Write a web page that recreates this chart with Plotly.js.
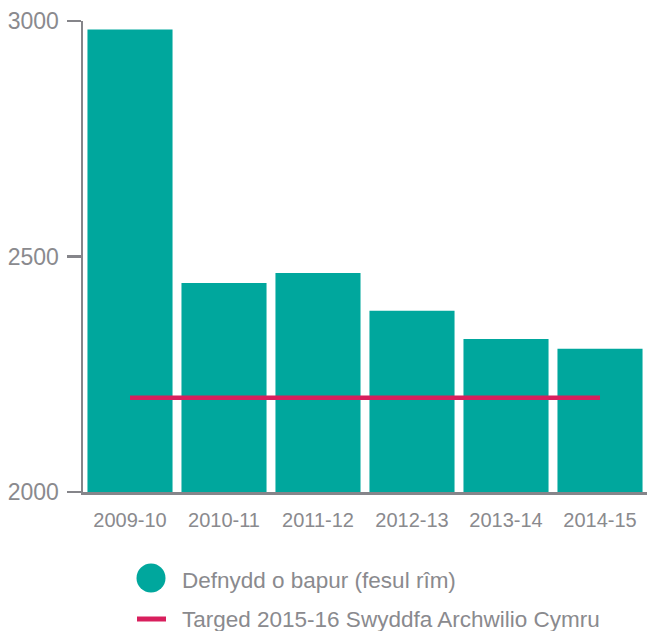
<!DOCTYPE html>
<html>
<head>
<meta charset="utf-8">
<script src="https://cdn.plot.ly/plotly-3.0.1.min.js"></script>
<style>html,body{margin:0;padding:0;background:#fff;}#chart{width:647px;height:631px;}</style>
</head>
<body>
<div id="chart"></div>
<script>
var categories = ['2009-10', '2010-11', '2011-12', '2012-13', '2013-14', '2014-15'];
var paperUse = [2982, 2444, 2465, 2385, 2325, 2304];
var targetValue = 2200;
var targetValues = [targetValue, targetValue];
var targetCats = [categories[0], categories[categories.length - 1]];
var yTicks = [2000, 2500, 3000];
var seriesNames = ['Defnydd o bapur (fesul rîm)', 'Targed 2015-16 Swyddfa Archwilio Cymru'];

var teal = '#00a79d';
var pink = '#d81f5d';
var gray = '#85858a';
var textGray = '#8a8a8e';
var font = 'Arial, "Liberation Sans", sans-serif';

var ML = 83, MR = 0, MT = 21, MB = 139, W = 647, H = 631;
var pw = W - ML - MR, ph = H - MT - MB;
function px(x) { return (x - ML) / pw; }
function py(y) { return (H - MB - y) / ph; }

var traces = [
  { type: 'bar', x: categories, y: paperUse, marker: { color: teal }, name: seriesNames[0], showlegend: false, hoverinfo: 'x+y' },
  { type: 'scatter', mode: 'lines', x: targetCats, y: targetValues, line: { color: pink, width: 4.5 }, name: seriesNames[1], showlegend: false }
];

var layout = {
  width: W, height: H,
  margin: { l: ML, r: MR, t: MT, b: MB },
  paper_bgcolor: '#fff', plot_bgcolor: '#fff',
  bargap: 0.095,
  showlegend: false,
  font: { family: font, color: textGray },
  xaxis: {
    type: 'category',
    showline: true, linecolor: gray, linewidth: 2.5,
    ticks: '', showgrid: false, zeroline: false,
    tickfont: { size: 20, color: textGray, family: font },
    ticklabelstandoff: 8
  },
  yaxis: {
    range: [2000, 3000],
    tickvals: yTicks, ticktext: yTicks.map(String),
    showline: true, linecolor: gray, linewidth: 2.5,
    ticks: 'outside', ticklen: 14, tickwidth: 2.5, tickcolor: gray,
    showgrid: false, zeroline: false,
    tickfont: { size: 23, color: textGray, family: font },
    ticklabelstandoff: 3
  },
  shapes: [
    { type: 'circle', xref: 'paper', yref: 'paper', xsizemode: 'pixel', ysizemode: 'pixel',
      xanchor: px(151), yanchor: py(578), x0: -14.5, x1: 14.5, y0: -14.5, y1: 14.5,
      fillcolor: teal, line: { width: 0 } },
    { type: 'line', xref: 'paper', yref: 'paper', xsizemode: 'pixel', ysizemode: 'pixel',
      xanchor: px(151.5), yanchor: py(619), x0: -14.5, x1: 14.5, y0: 0, y1: 0,
      line: { color: pink, width: 5 } }
  ],
  annotations: [
    { xref: 'paper', yref: 'paper', x: px(180), y: py(580), xanchor: 'left', yanchor: 'middle',
      text: seriesNames[0], showarrow: false, font: { size: 22.5, color: textGray, family: font } },
    { xref: 'paper', yref: 'paper', x: px(180), y: py(619), xanchor: 'left', yanchor: 'middle',
      text: seriesNames[1], showarrow: false, font: { size: 22.5, color: textGray, family: font } }
  ]
};

Plotly.newPlot('chart', traces, layout, { displayModeBar: false, staticPlot: true });
</script>
</body>
</html>
